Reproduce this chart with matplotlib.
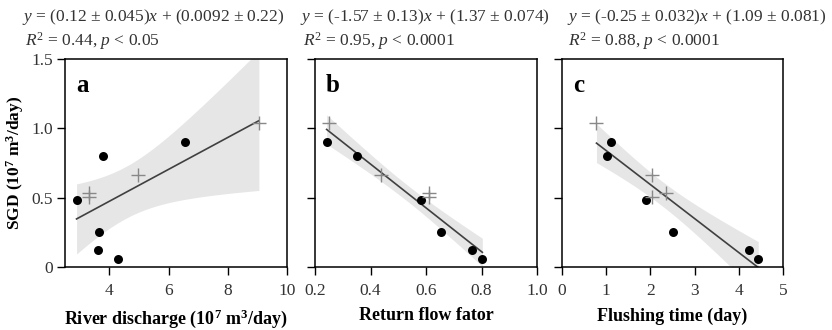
import numpy as np
import matplotlib
matplotlib.use("Agg")
import matplotlib.pyplot as plt

plt.rcParams['font.family'] = ['Liberation Serif', 'DejaVu Serif']
plt.rcParams['mathtext.fontset'] = 'custom'
plt.rcParams['mathtext.rm'] = 'Liberation Serif'
plt.rcParams['mathtext.it'] = 'Liberation Serif:italic'
plt.rcParams['mathtext.bf'] = 'Liberation Serif:bold'

# SGD (10^7 m3/day), shared by all panels
sgd_dots = [0.48, 0.80, 0.256, 0.122, 0.055, 0.90]
sgd_cross = [1.04, 0.667, 0.535, 0.505]

# panel a: river discharge
river_dots = [2.89, 3.79, 3.65, 3.60, 4.28, 6.56]
river_cross = [9.05, 4.95, 3.30, 3.30]
# panel b: return flow factor
rff_dots = [0.581, 0.350, 0.654, 0.766, 0.803, 0.242]
rff_cross = [0.250, 0.437, 0.612, 0.612]
# panel c: flushing time
flush_dots = [1.89, 1.01, 2.51, 4.22, 4.44, 1.10]
flush_cross = [0.78, 2.03, 2.36, 2.04]

equations = [
    (r"$y$ = (0.12 ± 0.045)$x$ + (0.0092 ± 0.22)", r"$R^2$ = 0.44, $p$ < 0.05"),
    (r"$y$ = (-1.57 ± 0.13)$x$ + (1.37 ± 0.074)", r"$R^2$ = 0.95, $p$ < 0.0001"),
    (r"$y$ = (-0.25 ± 0.032)$x$ + (1.09 ± 0.081)", r"$R^2$ = 0.88, $p$ < 0.0001"),
]
letters = ["a", "b", "c"]
xlabels = [r"River discharge (10$^\mathbf{7}$ m$^\mathbf{3}$/day)",
           "Return flow fator", "Flushing time (day)"]
xlims = [(2.5, 10), (0.2, 1.0), (0, 5)]
xticks = [[4, 6, 8, 10], [0.2, 0.4, 0.6, 0.8, 1.0], [0, 1, 2, 3, 4, 5]]
xticklabels = [["4", "6", "8", "10"], ["0.2", "0.4", "0.6", "0.8", "1.0"],
               ["0", "1", "2", "3", "4", "5"]]
panels = [(river_dots, river_cross), (rff_dots, rff_cross), (flush_dots, flush_cross)]

T95_DF8 = 2.306  # t quantile, n=10

fig = plt.figure(figsize=(8.32, 3.30), dpi=100)
positions = [[65, 222], [315, 222], [562, 221]]
eq_x = [22, 300, 567]
r2_x = [25, 303, 568]
tick_col = "#333333"

for i, (xd, xc) in enumerate(panels):
    left, width = positions[i]
    ax = fig.add_axes([left / 832, 1 - 267 / 330, width / 832, 208 / 330])

    x = np.array(xd + xc)
    y = np.array(sgd_dots + sgd_cross)
    slope, icpt = np.polyfit(x, y, 1)
    n = len(x)
    resid = y - (slope * x + icpt)
    s = np.sqrt(np.sum(resid ** 2) / (n - 2))
    xx = np.linspace(x.min(), x.max(), 200)
    se = s * np.sqrt(1 / n + (xx - x.mean()) ** 2 / np.sum((x - x.mean()) ** 2))
    fit = slope * xx + icpt
    ax.fill_between(xx, fit - T95_DF8 * se, fit + T95_DF8 * se,
                    color="#e6e6e6", lw=0, zorder=1)
    ax.plot(xx, fit, color="#404040", lw=1.2, zorder=2)
    ax.scatter(xd, sgd_dots, s=42, color="black", zorder=3, lw=0)
    ax.scatter(xc, sgd_cross, s=90, marker="+", color="#888888",
               linewidths=1.0, zorder=3)

    ax.set_xlim(*xlims[i])
    ax.set_ylim(0, 1.5)
    ax.set_xticks(xticks[i])
    ax.set_xticklabels(xticklabels[i])
    ax.set_yticks([0, 0.5, 1.0, 1.5])
    if i == 0:
        ax.set_yticklabels(["0", "0.5", "1.0", "1.5"])
        ax.set_ylabel(r"SGD (10$^\mathbf{7}$ m$^\mathbf{3}$/day)",
                      fontsize=12.5, fontweight="bold", va="center")
        ax.yaxis.set_label_coords(-(65 - 15) / 222, 0.5)
    else:
        ax.set_yticklabels([])
    ax.tick_params(direction="out", length=5.5, width=1, labelsize=12.5,
                   labelcolor=tick_col, pad=3)
    ax.tick_params(axis="x", pad=6)
    ax.set_xlabel(xlabels[i], fontsize=13, fontweight="bold", labelpad=6)
    for sp in ax.spines.values():
        sp.set_linewidth(1.1)

    ax.text(0.05, 0.93, letters[i], transform=ax.transAxes, fontsize=18,
            fontweight="bold", va="top", ha="left")

    fig.text(eq_x[i] / 832, 1 - 17 / 330, equations[i][0], fontsize=12.5,
             color=tick_col, va="center", ha="left")
    fig.text(r2_x[i] / 832, 1 - 41 / 330, equations[i][1], fontsize=12.5,
             color=tick_col, va="center", ha="left")

fig.savefig("out.png", dpi=100)
